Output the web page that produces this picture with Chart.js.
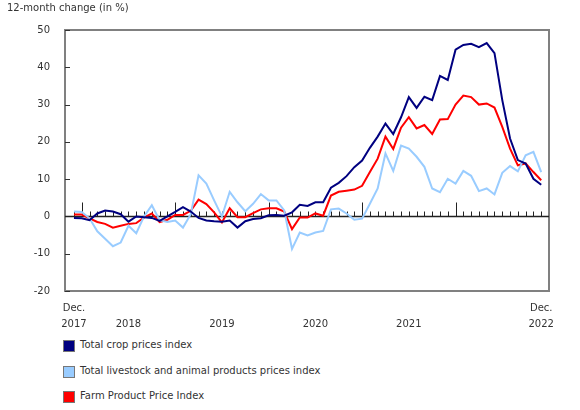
<!DOCTYPE html>
<html>
<head>
<meta charset="utf-8">
<script src="https://cdn.jsdelivr.net/npm/chart.js@4"></script>
<style>
  body { margin: 0; background: #fff; font-family: "DejaVu Sans", Verdana, sans-serif; color: #333; }
  #wrap { position: relative; width: 580px; height: 410px; }
  #unit { position: absolute; left: 7px; top: 2px; font-size: 10px; }
  #legend { position: absolute; left: 63px; top: 339px; font-size: 10px; }
  .row { height: 25.5px; display: flex; align-items: flex-start; }
  .box { width: 10px; height: 10px; border: 1px solid #777; margin-right: 5px; margin-top: 1px; }
</style>
</head>
<body>
<div id="wrap">
  <div id="unit">12-month change (in %)</div>
  <canvas id="chart" width="580" height="330"></canvas>
  <div id="legend"></div>
</div>
<script>
// Monate Dez. 2017 bis Dez. 2022 (Index 0..60)
const months = Array.from({ length: 61 }, (_, i) => i);

const cropValues = [
  -0.4, -0.5, -1.0, 0.8, 1.6, 1.3, 0.6, -1.4, 0, -0.2, -0.4, -1.2,
  0, 1.2, 2.5, 1.3, -0.4, -1.1, -1.3, -1.4, -1.1, -3.0, -1.3, -0.7,
  -0.5, 0.3, 0.4, 0.2, 1.1, 3.1, 2.8, 3.8, 3.8, 7.7, 9.0, 10.8,
  13.2, 15.0, 18.4, 21.4, 24.9, 22.1, 26.6, 32.0, 29.1, 32.1, 31.2, 37.7,
  36.6, 44.7, 46.0, 46.3, 45.4, 46.5, 43.8, 31.2, 20.9, 15.1, 14.2, 10.1,
  8.5
];
const livestockValues = [
  1.3, 1.2, -0.5, -4.0, -6.0, -8.0, -7.0, -2.5, -4.5, 0, 3.0, -1.0,
  -1.5, -1.1, -3.0, 0.6, 11.0, 8.8, 4.3, 0, 6.6, 3.8, 1.4, 3.4,
  6.0, 4.3, 4.3, 1.6, -8.7, -4.3, -5.1, -4.3, -3.9, 1.9, 2.1, 0.8,
  -0.9, -0.6, 3.4, 7.5, 16.9, 12.2, 19.0, 18.2, 16.0, 13.3, 7.5, 6.5,
  10.1, 8.8, 12.2, 10.9, 6.8, 7.5, 5.9, 11.7, 13.5, 12.1, 16.4, 17.3,
  11.9
];
const fppiValues = [
  0.5, 0.5, -0.5, -1.5, -2.0, -3.0, -2.5, -2.0, -1.8, -0.3, 0.8, -1.5,
  -0.9, 0.4, 0.4, 1.5, 4.5, 3.3, 1.1, -1.6, 2.2, -0.2, -0.2, 0.9,
  1.9, 2.2, 2.2, 1.3, -3.4, -0.3, -0.3, 0.8, 0.2, 5.6, 6.6, 6.9,
  7.2, 8.2, 11.9, 15.5, 21.4, 18.1, 23.8, 26.6, 23.6, 24.5, 22.1, 26.0,
  26.1, 30.0, 32.4, 32.0, 30.0, 30.3, 29.2, 24.0, 18.2, 13.7, 14.2, 11.9,
  9.7
];

const seriesNames = [
  "Total crop prices index",
  "Total livestock and animal products prices index",
  "Farm Product Price Index"
];
const seriesColors = ["#000080", "#99ccff", "#ff0000"];

// Beschriftung der x-Achse
const tickPositions = [0, 7, 19, 31, 43, 60];
const tickLabels = [["Dec.", "2017"], ["", "2018"], ["", "2019"], ["", "2020"], ["", "2021"], ["Dec.", "2022"]];
const yTicks = [-20, -10, 0, 10, 20, 30, 40, 50];

/* --------- Rahmen, Nulllinie, Monatsstriche --------- */
const framePlugin = {
  id: "frame",
  beforeDatasetsDraw(chart) {
    const { ctx, chartArea: a, scales } = chart;
    const x = scales.x, y = scales.y;
    ctx.save();
    ctx.strokeStyle = "#808080";
    ctx.lineWidth = 2;
    ctx.strokeRect(a.left, a.top, a.right - a.left, a.bottom - a.top);

    // y-Striche nach innen
    ctx.strokeStyle = "#333";
    ctx.lineWidth = 1;
    yTicks.forEach(v => {
      const py = Math.round(y.getPixelForValue(v)) + 0.5;
      ctx.beginPath();
      ctx.moveTo(a.left, py);
      ctx.lineTo(a.left + 5, py);
      ctx.stroke();
    });

    const zero = Math.round(y.getPixelForValue(0)) + 0.5;
    ctx.strokeStyle = "#222";
    ctx.lineWidth = 1.5;
    ctx.beginPath();
    ctx.moveTo(a.left, zero);
    ctx.lineTo(a.right, zero);
    ctx.stroke();

    ctx.lineWidth = 1;
    months.forEach(i => {
      const px = Math.round(x.getPixelForValue(i)) + 0.5;
      const len = (i % 12 === 1) ? 14 : 5;
      ctx.beginPath();
      ctx.moveTo(px, zero);
      ctx.lineTo(px, zero - len);
      ctx.stroke();
    });
    ctx.restore();
  }
};

function makeDataset(values, idx) {
  return {
    label: seriesNames[idx],
    data: months.map((m, i) => ({ x: m, y: values[i] })),
    borderColor: seriesColors[idx],
    backgroundColor: seriesColors[idx],
    borderWidth: 2,
    pointRadius: 0,
    tension: 0
  };
}

const chart = new Chart(document.getElementById("chart"), {
  type: "line",
  data: {
    datasets: [
      makeDataset(cropValues, 0),
      makeDataset(livestockValues, 1),
      makeDataset(fppiValues, 2)
    ]
  },
  options: {
    responsive: false,
    animation: false,
    layout: { padding: { top: 30, right: 31, left: 0, bottom: 0 } },
    plugins: { legend: { display: false }, tooltip: { enabled: false } },
    scales: {
      x: {
        type: "linear",
        min: -1.15,
        max: 61,
        grid: { display: false },
        border: { display: false },
        afterBuildTicks: s => { s.ticks = tickPositions.map(v => ({ value: v })); },
        afterFit: s => { s.height = 39; },
        ticks: {
          autoSkip: false,
          maxRotation: 0,
          padding: 1,
          color: "#333",
          font: { family: "DejaVu Sans", size: 10, lineHeight: 1.6 },
          callback: v => tickLabels[tickPositions.indexOf(v)]
        }
      },
      y: {
        min: -20,
        max: 50,
        grid: { display: false },
        border: { display: false },
        afterBuildTicks: s => { s.ticks = yTicks.map(v => ({ value: v })); },
        afterFit: s => { s.width = 65; },
        ticks: {
          padding: 7,
          color: "#333",
          font: { family: "DejaVu Sans", size: 10 }
        }
      }
    }
  },
  plugins: [framePlugin]
});

/* --------- LEGENDE --------- */
const legend = document.getElementById("legend");
seriesNames.forEach((name, i) => {
  const row = document.createElement("div");
  row.className = "row";
  row.innerHTML = `<div class="box" style="background:${seriesColors[i]}"></div><span>${name}</span>`;
  legend.appendChild(row);
});
</script>
</body>
</html>
